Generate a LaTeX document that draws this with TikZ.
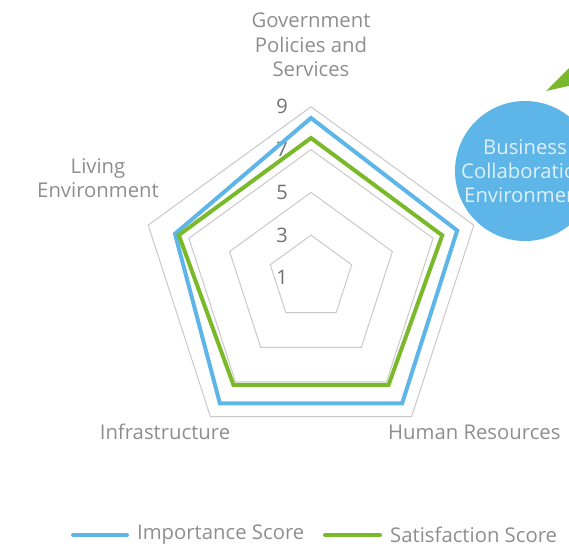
\documentclass[tikz,border=0pt]{standalone}
\usepackage{fontspec}
\setmainfont{Open Sans}
\definecolor{impblue}{HTML}{5DB6E7}
\definecolor{satgreen}{HTML}{79B92A}
\definecolor{gridgray}{HTML}{C9C9C9}
\definecolor{labgray}{HTML}{8E8E8E}
\definecolor{numgray}{HTML}{707070}
\tikzset{
  gridline/.style={draw=gridgray, line width=1pt},
  series/.style={line width=4pt, line join=miter},
  axlabel/.style={text=labgray, font=\fontsize{20.3}{24.5}\selectfont, align=center, inner sep=0pt},
  numlabel/.style={text=numgray, font=\fontsize{20}{22}\selectfont, inner sep=0pt},
  legline/.style={line width=4pt, line cap=round},
}
\begin{document}
\begin{tikzpicture}[x=1pt,y=1pt]
\useasboundingbox (0,-549) rectangle (569,0);
\clip (0,-549) rectangle (569,0);
% decorative triangle
\fill[satgreen] (546,-91) -- (600,-37) -- (600,-79) -- cycle;
% business circle
\node[circle, fill=impblue, minimum size=140pt, inner sep=0pt] (bce) at (525,-171) {};
\node[text=white, text opacity=0.8, font=\fontsize{20.3}{24}\selectfont, align=center, inner sep=0pt] (bcetext) at (525,-171) {Business\\Collaboration\\Environment};
\begin{scope}[shift={(311,-278)}]
  \coordinate (C) at (0,0);
  \foreach \r in {42.8,85.6,128.4,171.2}
    \draw[gridline] (90:\r) -- (18:\r) -- (-54:\r) -- (-126:\r) -- (162:\r) -- cycle;
  % scale labels
  \node[numlabel] (n9) at (-29,171.5) {9};
  \node[numlabel] (n7) at (-29,128.5) {7};
  \node[numlabel] (n5) at (-29,85.5) {5};
  \node[numlabel] (n3) at (-29,42.8) {3};
  \node[numlabel] (n1) at (-29,0.5) {1};
  % series
  \draw[series, impblue] (90:160) -- (18:153.7) -- (-54:155) -- (-126:155) -- (162:143) -- cycle;
  \draw[series, satgreen] (90:140) -- (18:138) -- (-54:132) -- (-126:132) -- (162:139) -- cycle;
\end{scope}
% axis labels
\node[axlabel] (gov) at (311,-45) {Government\\Policies and\\Services};
\node[axlabel] (living) at (98,-178) {Living\\Environment};
\node[axlabel] (infra) at (165,-432) {Infrastructure};
\node[axlabel, anchor=west] (hr) at (388,-432) {Human Resources};
% legend
\coordinate (l1a) at (73,-535);
\coordinate (l1b) at (127,-535);
\coordinate (l2a) at (325,-535);
\coordinate (l2b) at (380,-535);
\draw[legline, impblue] (l1a) -- (l1b);
\draw[legline, satgreen] (l2a) -- (l2b);
\node[axlabel, anchor=west] (leg1) at (137,-535) {Importance Score};
\node[axlabel, anchor=west] (leg2) at (390,-535) {Satisfaction Score};
\end{tikzpicture}
\end{document}
